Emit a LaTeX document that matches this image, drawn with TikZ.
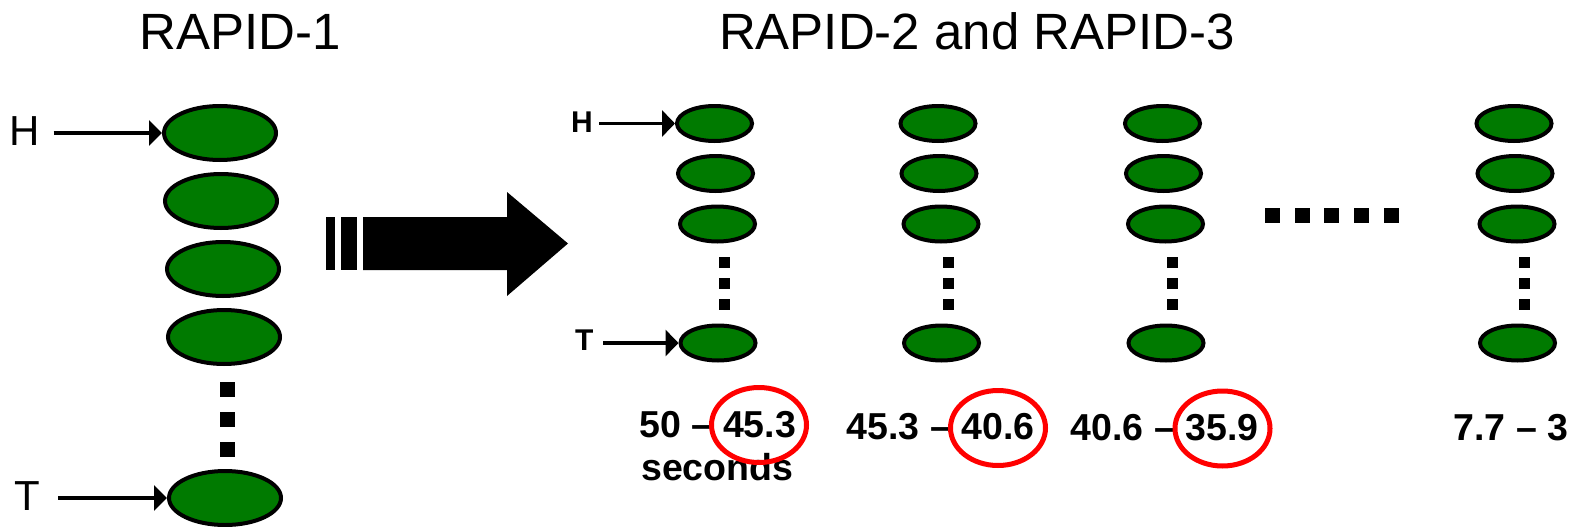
\documentclass[tikz,border=0pt]{standalone}
\usepackage{fontspec}
\setmainfont{Liberation Sans}
\usetikzlibrary{arrows.meta,shapes.geometric}
\definecolor{cellgreen}{RGB}{0,122,0}
\definecolor{markred}{RGB}{255,0,0}

\begin{document}
\begin{tikzpicture}[x=1pt,y=-1pt,
  bigcell/.style={ellipse,draw=black,line width=4pt,fill=cellgreen,
    minimum width=112pt,minimum height=54pt,inner sep=0pt},
  cell/.style={ellipse,draw=black,line width=4pt,fill=cellgreen,
    minimum width=75pt,minimum height=35pt,inner sep=0pt},
  ring/.style={ellipse,draw=markred,line width=5pt,
    minimum width=95pt,minimum height=75pt,inner sep=0pt},
  bigpointer/.style={line width=3.5pt,-{Triangle[length=13pt,width=25pt]}},
  pointer/.style={line width=3.5pt,-{Triangle[length=13pt,width=26pt]}},
  title/.style={inner sep=0pt,anchor=base,font=\fontsize{51}{60}\selectfont},
  biglabel/.style={inner sep=0pt,anchor=base west,font=\fontsize{42}{48}\selectfont},
  smalllabel/.style={inner sep=0pt,anchor=base west,font=\bfseries\fontsize{30}{36}\selectfont},
  timelabel/.style={inner sep=0pt,anchor=base west,font=\bfseries\fontsize{37.5}{44}\selectfont},
]
\useasboundingbox (0,0) rectangle (1581,527);

% headings
\node[title] (t1) at (240.5,49) {RAPID-1};
\node[title] (t2) at (977,49) {RAPID-2 and RAPID-3};

% single long chain
\node[bigcell] (L1) at (220,133) {};
\node[bigcell] (L2) at (221,201) {};
\node[bigcell] (L3) at (223,269) {};
\node[bigcell] (L4) at (224,337) {};
\node[bigcell] (L5) at (225,498) {};
\foreach \yy in {382,412,442}
  \fill (220,\yy) rectangle ++(15,15);

\node[biglabel] (LH) at (9,145) {H};
\node[biglabel] (LT) at (14,510) {T};
\draw[bigpointer,shorten <=14pt] (LH.east |- L1.west) -- (L1.west);
\draw[bigpointer,shorten <=18pt] (LT.east |- L5.west) -- (L5.west);

% transition arrow
\fill (326,217) rectangle (335,270);
\fill (341,217) rectangle (357,270);
\fill (363,217) -- (507,217) -- (507,192) -- (568,243.5) -- (507,296)
      -- (507,270) -- (363,270) -- cycle;

% split chains
\foreach \c/\dx in {a/0,b/223.5,c/448,d/799.5}{
  \node[cell] (\c1) at (714.5+\dx,123.5) {};
  \node[cell] (\c2) at (715.5+\dx,173.5) {};
  \node[cell] (\c3) at (717.5+\dx,224) {};
  \node[cell] (\c4) at (718+\dx,343) {};
  \foreach \yy in {257,278,299}
    \fill (719+\dx,\yy) rectangle ++(11,11);
}

\node[smalllabel] (RH) at (571,132) {H};
\node[smalllabel] (RT) at (575,350.5) {T};
\draw[pointer,shorten <=6pt] (RH.east |- a1.west) -- (a1.west);
\draw[pointer,shorten <=9.5pt] (RT.east |- a4.west) -- (a4.west);

% elided chains
\foreach \xx in {1265,1295,1324,1354,1384}
  \fill (\xx,208) rectangle ++(15,15);

% time windows
\node[timelabel] (w1) at (639.5,437) {50 – 45.3};
\node[timelabel] (w1s) at (641,480) {seconds};
\node[timelabel] (w2) at (846.5,439.5) {45.3 – 40.6};
\node[timelabel] (w3) at (1070.5,440) {40.6 – 35.9};
\node[timelabel] (w4) at (1453.5,440) {7.7 – 3};

\node[ring] (r1) at (759,425) {};
\node[ring] (r2) at (998,428) {};
\node[ring] (r3) at (1222.5,428.5) {};
\end{tikzpicture}
\end{document}
